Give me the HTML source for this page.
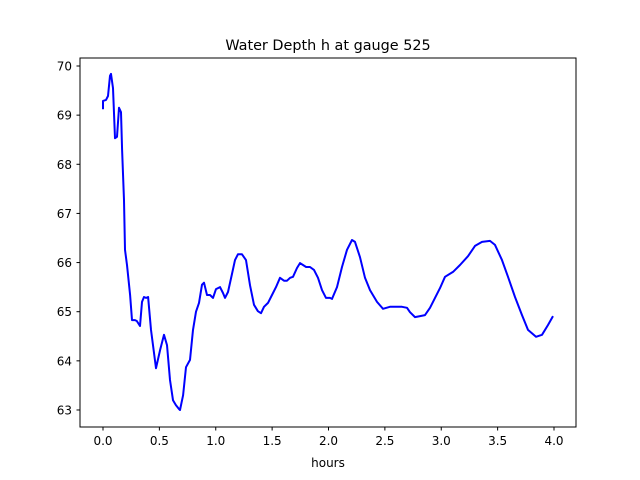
<!DOCTYPE html>
<html><head><meta charset="utf-8"><style>
body{margin:0;background:#fff;}
svg{display:block;font-family:"DejaVu Sans","Liberation Sans",sans-serif;}
</style></head><body>
<svg id="chart" width="640" height="480">
<rect x="0" y="0" width="640" height="480" fill="#fff"/>
<text x="328" y="50" text-anchor="middle" font-size="14.4">Water Depth h at gauge 525</text>
<g id="xt"></g>
<g id="yt"></g>
<path id="line" fill="none" stroke="#0000ff" stroke-width="2" stroke-linejoin="round"/>
<rect x="80" y="58" width="496" height="369" fill="none" stroke="#000" stroke-width="1"/>
<text x="328" y="467" text-anchor="middle" font-size="12">hours</text>
</svg>
<script>
const hours=[0,0,0.027,0.044,0.062,0.071,0.089,0.106,0.124,0.142,0.16,0.169,0.186,0.195,0.213,0.24,0.257,0.284,0.30,0.328,0.346,0.364,0.381,0.40,0.426,0.47,0.506,0.541,0.568,0.594,0.621,0.647,0.674,0.683,0.71,0.736,0.772,0.798,0.825,0.851,0.878,0.896,0.922,0.949,0.976,1.002,1.038,1.064,1.082,1.109,1.144,1.171,1.197,1.232,1.268,1.304,1.339,1.374,1.401,1.428,1.463,1.499,1.534,1.57,1.605,1.632,1.659,1.685,1.721,1.747,1.774,1.801,1.836,1.871,1.907,1.942,1.978,2.013,2.031,2.075,2.12,2.164,2.208,2.235,2.279,2.324,2.368,2.43,2.483,2.545,2.608,2.652,2.696,2.723,2.767,2.812,2.856,2.9,2.945,2.989,3.033,3.104,3.166,3.237,3.299,3.361,3.432,3.477,3.539,3.592,3.654,3.716,3.769,3.84,3.894,3.947,3.991];
const depth=[69.12,69.29,69.31,69.39,69.80,69.84,69.55,68.53,68.56,69.15,69.06,68.29,67.27,66.26,65.95,65.34,64.83,64.83,64.81,64.71,65.20,65.30,65.28,65.30,64.63,63.85,64.22,64.53,64.32,63.61,63.20,63.10,63.02,63.00,63.30,63.87,64.02,64.63,65.00,65.18,65.55,65.59,65.34,65.34,65.28,65.46,65.50,65.38,65.28,65.40,65.77,66.05,66.17,66.17,66.05,65.54,65.14,65.01,64.97,65.10,65.18,65.34,65.50,65.69,65.63,65.63,65.69,65.71,65.89,65.99,65.95,65.91,65.91,65.85,65.69,65.44,65.28,65.28,65.26,65.50,65.91,66.26,66.46,66.42,66.11,65.69,65.44,65.20,65.06,65.10,65.10,65.10,65.08,64.99,64.89,64.91,64.93,65.08,65.28,65.48,65.71,65.81,65.95,66.13,66.34,66.42,66.44,66.36,66.05,65.71,65.30,64.93,64.63,64.49,64.53,64.73,64.91];
const xTicks=[0,0.5,1,1.5,2,2.5,3,3.5,4];
const xTickLabels=["0.0","0.5","1.0","1.5","2.0","2.5","3.0","3.5","4.0"];
const yTicks=[63,64,65,66,67,68,69,70];
const yTickLabels=["63","64","65","66","67","68","69","70"];
const X=t=>103+t*112.75;
const Y=v=>66+(70-v)*49.14;
const NS="http://www.w3.org/2000/svg";
const xt=document.getElementById('xt'), yt=document.getElementById('yt');
xTicks.forEach((t,i)=>{
  const l=document.createElementNS(NS,'line');
  l.setAttribute('x1',X(t));l.setAttribute('x2',X(t));l.setAttribute('y1',427);l.setAttribute('y2',430.5);l.setAttribute('stroke','#000');
  
  
  xt.appendChild(l);
  const tx=document.createElementNS(NS,'text');
  tx.setAttribute('x',X(t));tx.setAttribute('y',445);tx.setAttribute('text-anchor','middle');tx.setAttribute('font-size','12');
  tx.textContent=xTickLabels[i];
  
  
  xt.appendChild(tx);
});
yTicks.forEach((v,i)=>{
  const l=document.createElementNS(NS,'line');
  l.setAttribute('x1',76.5);l.setAttribute('x2',80);l.setAttribute('y1',Y(v));l.setAttribute('y2',Y(v));l.setAttribute('stroke','#000');
  
  
  yt.appendChild(l);
  const tx=document.createElementNS(NS,'text');
  tx.setAttribute('x',72);tx.setAttribute('y',Y(v)+4.5);tx.setAttribute('text-anchor','end');tx.setAttribute('font-size','12');
  tx.textContent=yTickLabels[i];
  
  
  yt.appendChild(tx);
});
document.getElementById('line').setAttribute('d',hours.map((t,i)=>(i?'L':'M')+X(t).toFixed(1)+' '+Y(depth[i]).toFixed(1)).join(' '));
</script>
</body></html>
